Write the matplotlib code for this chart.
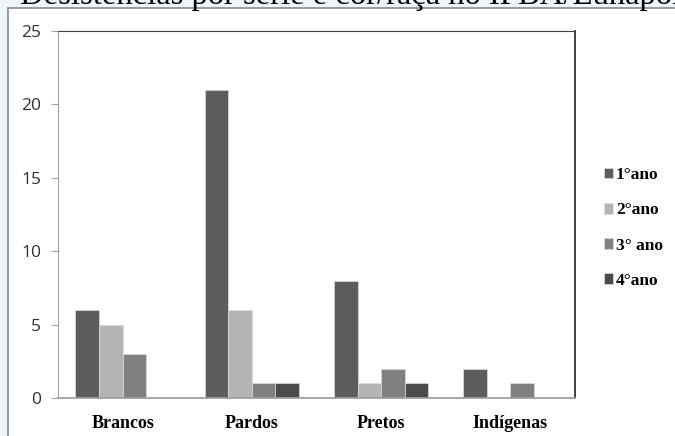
import numpy as np
import matplotlib
matplotlib.use('Agg')
import matplotlib.pyplot as plt

# data
categorias = ['Brancos', 'Pardos', 'Pretos', 'Indígenas']
series = ['1°ano', '2°ano', '3° ano', '4°ano']
ano1 = [6, 21, 8, 2]
ano2 = [5, 6, 1, 0]
ano3 = [3, 1, 2, 1]
ano4 = [0, 1, 1, 0]
cores = ['#5d5d5d', '#b4b4b4', '#808080', '#4b4b4b']

fig = plt.figure(figsize=(6.75, 4.36), dpi=100, facecolor='#eef6fa')

# white panel with grey border, like the pasted Excel chart
bg = fig.add_axes([8 / 675, -0.01, 1.0, 1 - 8 / 436 + 0.01], zorder=-5)
bg.set_facecolor('white')
bg.set_xticks([])
bg.set_yticks([])
for s in bg.spines.values():
    s.set_color('#8a8a8a')
    s.set_linewidth(1.2)

# title cut off at top edge
fig.text(20 / 675, 1 - 4 / 436, 'Desistências por série e cor/raça no IFBA/Eunápolis',
         family='Liberation Serif', fontsize=23.5, va='baseline', ha='left', color='black')

ax = fig.add_axes([58 / 675, 1 - 398 / 436, (575 - 58) / 675, (398 - 31) / 436], zorder=2)
ax.set_facecolor('white')

x = np.arange(len(categorias))
w = 0.73 / 4
valores = [ano1, ano2, ano3, ano4]
for i, (vals, nome) in enumerate(zip(valores, series)):
    ax.bar(x - 0.365 + w * (i + 0.5), vals, width=w, color=cores[i],
           edgecolor='#dddddd', lw=0.5, label=nome, zorder=2)

ax.set_xlim(-0.5, 3.5)
ax.set_ylim(0, 25)
ax.set_yticks([0, 5, 10, 15, 20, 25])
ax.set_xticks(x)
ax.set_xticklabels(categorias, family='Liberation Serif', fontweight='bold', fontsize=13)
ax.tick_params(axis='x', length=0, pad=12)
ax.tick_params(axis='y', length=5, color='#a0a0a0', labelsize=12.5, labelcolor='#303030', pad=7)
for lab in ax.get_yticklabels():
    lab.set_family('Open Sans')

ax.spines['left'].set_color('#a0a0a0')
ax.spines['bottom'].set_color('#a0a0a0')
ax.spines['bottom'].set_linewidth(1.3)
ax.spines['top'].set_color('#404040')
ax.spines['right'].set_color('#202020')
ax.spines['right'].set_linewidth(1.2)

leg = fig.legend(loc='center left', bbox_to_anchor=(588 / 675, 1 - 228 / 436),
                 frameon=False, handlelength=0.55, handleheight=0.55, handletextpad=0.15,
                 labelspacing=1.1, prop={'family': 'Liberation Serif', 'weight': 'bold', 'size': 12.5})

fig.savefig('out.png', dpi=100, facecolor=fig.get_facecolor())
